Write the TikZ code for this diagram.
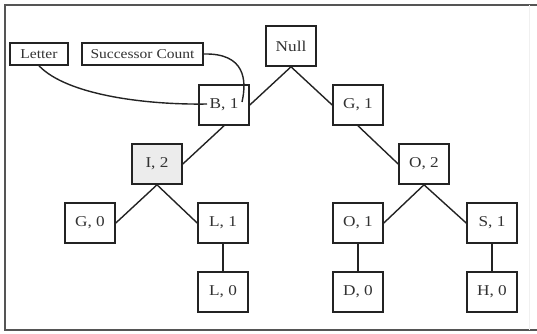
\documentclass[tikz,border=0pt]{standalone}
\usepackage{fontspec}
\setmainfont{Liberation Serif}[FakeStretch=1.15]
\definecolor{framec}{RGB}{85,85,85}
\definecolor{linec}{RGB}{35,35,35}
\definecolor{textc}{RGB}{50,50,50}
\definecolor{fillc}{RGB}{236,236,236}
\begin{document}
\begin{tikzpicture}[x=1pt,y=-1pt,
  tnode/.style={draw=linec,line width=1.6pt,rectangle,inner sep=0pt,minimum width=50pt,minimum height=40pt,
    font=\fontsize{15}{17}\selectfont,text=textc},
  lnode/.style={draw=linec,line width=1.6pt,rectangle,inner sep=0pt,minimum height=22pt,
    font=\fontsize{13.5}{15}\selectfont,text=textc},
  edge/.style={draw=linec,line width=1.4pt},
  frame/.style={draw=framec,line width=2.8pt}]
\useasboundingbox (0,0) rectangle (537,333);
% frame
\draw[frame] (537,5) -- (5,5) -- (5,330) -- (537,330);
\draw[draw=black!6,line width=1pt] (529,5) -- (529,330);
% tree nodes
\node[tnode] (null) at (291,46) {Null};
\node[tnode] (b1) at (224,105) {B, 1};
\node[tnode] (g1) at (358,105) {G, 1};
\node[tnode,fill=fillc] (i2) at (157,164) {I, 2};
\node[tnode] (o2) at (424,164) {O, 2};
\node[tnode] (g0) at (90,223) {G, 0};
\node[tnode] (l1) at (223,223) {L, 1};
\node[tnode] (o1) at (358,223) {O, 1};
\node[tnode] (s1) at (492,223) {S, 1};
\node[tnode] (l0) at (223,292) {L, 0};
\node[tnode] (d0) at (358,292) {D, 0};
\node[tnode] (h0) at (492,292) {H, 0};
% label nodes
\node[lnode,minimum width=58pt] (letter) at (39,54) {Letter};
\node[lnode,minimum width=121pt] (succ) at (142.5,54) {Successor Count};
% edges
\draw[edge] (null.south) -- (b1.east);
\draw[edge] (null.south) -- (g1.west);
\draw[edge] (b1.south) -- (i2.east);
\draw[edge] (g1.south) -- (o2.west);
\draw[edge] (i2.south) -- (g0.east);
\draw[edge] (i2.south) -- (l1.west);
\draw[edge] (o2.south) -- (o1.east);
\draw[edge] (o2.south) -- (s1.west);
\draw[edge] (l1.south) -- (l0.north);
\draw[edge] (o1.south) -- (d0.north);
\draw[edge] (s1.south) -- (h0.north);
% pointer curves
\coordinate (lt) at (207,104);
\coordinate (sc) at (242,102);
\draw[edge] (letter.south) .. controls (68,96) and (150,105) .. (lt);
\draw[edge] (succ.east) .. controls (245,53) and (247,80) .. (sc);
\end{tikzpicture}
\end{document}
